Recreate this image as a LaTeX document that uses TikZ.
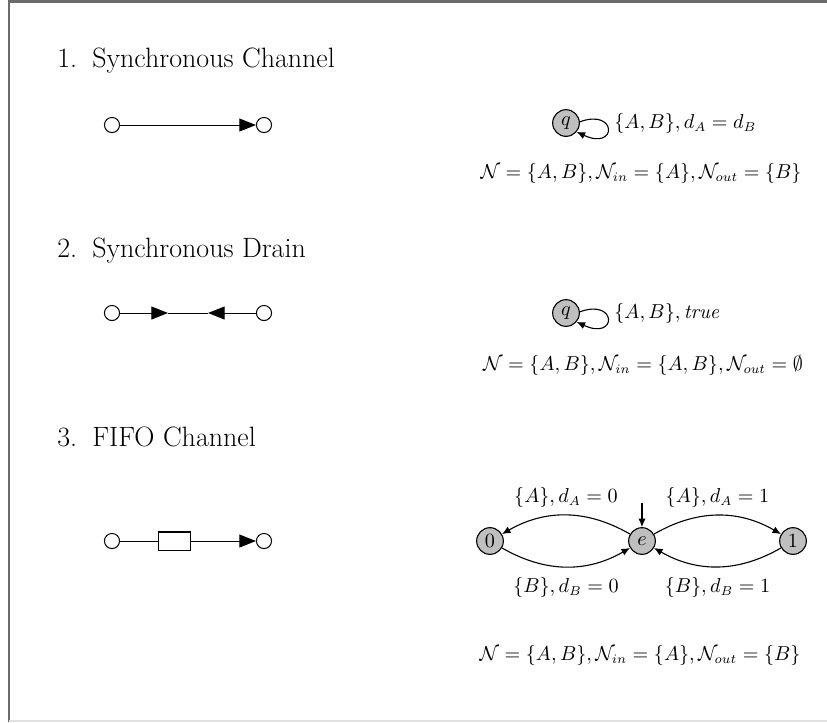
\documentclass[tikz,border=0pt]{standalone}
\usetikzlibrary{arrows.meta}
\begin{document}
\begin{tikzpicture}[x=0.5434pt,y=0.5434pt,
  every node/.style={font=\fontsize{10.5}{12.6}\selectfont},
  framepen/.style={draw=black!58,line width=1.1pt},
  heading/.style={anchor=base west,inner sep=0pt,font=\fontsize{15.2}{18}\selectfont},
  port/.style={circle,draw,fill=white,line width=0.55pt,minimum size=8.2pt,inner sep=0pt},
  wire/.style={line width=0.55pt},
  tri/.style={wire,-{Triangle[length=9pt,width=7pt]}},
  buffer/.style={draw,line width=0.55pt,minimum width=17.9pt,minimum height=9.8pt,inner sep=0pt},
  state/.style={circle,draw,fill=black!25,line width=0.6pt,minimum size=14.5pt,inner sep=0pt},
  trans/.style={line width=0.6pt,-{Latex[length=4.6pt,width=4pt]}},
  formula/.style={inner sep=0pt}]
\useasboundingbox (0,0) rectangle (827,-722);

% page frame
\draw[framepen] (9,-722) -- (9,-1.5) -- (827,-1.5);
\draw[black!12,line width=0.6pt] (9,-721) -- (827,-721);

% ---------- 1. Synchronous Channel ----------
\node[heading] (h1) at (57,-67) {\makebox[19pt][l]{1.}Synchronous Channel};
\node[port] (a1) at (112,-125) {};
\node[port] (b1) at (264,-125) {};
\draw[tri] (a1) -- (b1);

\node[state] (q1) at (566,-123) {$q$};
\draw[trans] (q1.5) .. controls +(20:40) and +(-25:45) .. (q1.-40);
\node[formula,anchor=west] (l1) at (614,-123) {$\{A,B\}, d_A = d_B$};
\node[formula] (n1) at (641,-173) {$\mathcal{N} = \{A,B\}, \mathcal{N}_{in} = \{A\}, \mathcal{N}_{out} = \{B\}$};

% ---------- 2. Synchronous Drain ----------
\node[heading] (h2) at (57,-257) {\makebox[19pt][l]{2.}Synchronous Drain};
\node[port] (a2) at (112,-313) {};
\node[port] (b2) at (264,-313) {};
\coordinate (t2a) at (168,-313);
\coordinate (t2b) at (208,-313);
\draw[tri] (a2) -- (t2a);
\draw[wire] (t2a) -- (t2b);
\draw[tri] (b2) -- (t2b);

\node[state] (q2) at (566,-313) {$q$};
\draw[trans] (q2.5) .. controls +(20:40) and +(-25:45) .. (q2.-40);
\node[formula,anchor=west] (l2) at (614,-313) {$\{A,B\}, \mathit{true}$};
\node[formula] (n2) at (643,-365) {$\mathcal{N} = \{A,B\}, \mathcal{N}_{in} = \{A,B\}, \mathcal{N}_{out} = \emptyset$};

% ---------- 3. FIFO Channel ----------
\node[heading] (h3) at (57,-446) {\makebox[19pt][l]{3.}FIFO Channel};
\node[port] (a3) at (112,-541) {};
\node[port] (b3) at (264,-541) {};
\node[buffer] (buf) at (174.5,-541) {};
\draw[wire] (a3) -- (buf);
\draw[tri] (buf) -- (b3);

\node[state] (s0) at (490,-541) {$0$};
\node[state] (se) at (642,-541) {$e$};
\node[state] (s1) at (793,-541) {$1$};
\coordinate (init) at (642,-503);
\draw[trans] (init) -- (se);
\draw[trans] (se) to[bend right=30] node[above=0.5pt] {$\{A\}, d_A = 0$} (s0);
\draw[trans] (se) to[bend left=30] node[above=0.5pt] {$\{A\}, d_A = 1$} (s1);
\draw[trans] (s0) to[bend right=30] node[below=2pt] {$\{B\}, d_B = 0$} (se);
\draw[trans] (s1) to[bend left=30] node[below=2pt] {$\{B\}, d_B = 1$} (se);
\node[formula] (n3) at (640,-655) {$\mathcal{N} = \{A,B\}, \mathcal{N}_{in} = \{A\}, \mathcal{N}_{out} = \{B\}$};
\end{tikzpicture}
\end{document}
